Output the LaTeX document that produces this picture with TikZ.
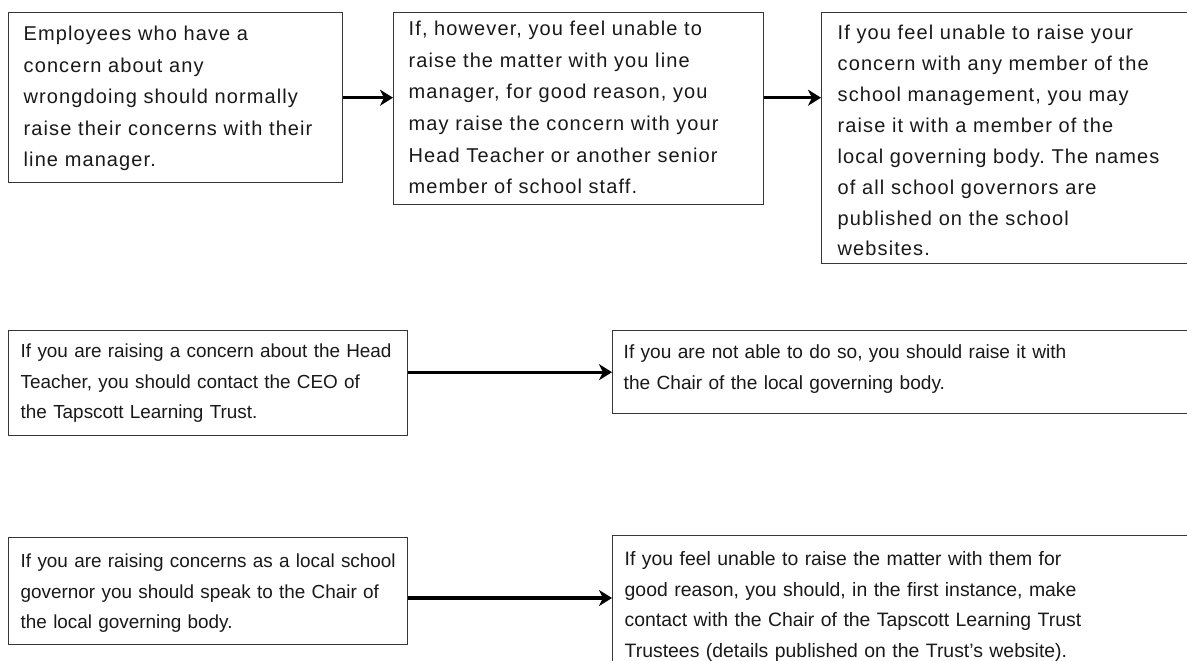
\documentclass[tikz,border=0pt]{standalone}
\usepackage{fontspec}
\setmainfont{Liberation Sans}
\newfontfamily\widefont[LetterSpace=5.5]{Liberation Sans}
\usetikzlibrary{arrows.meta}
\definecolor{bordc}{RGB}{55,55,55}
\definecolor{txtc}{RGB}{25,25,25}
\newcommand\tline[1]{\mbox{#1}\\}
\tikzset{
  box/.style={draw=bordc, line width=1.4pt, anchor=north west, inner ysep=0pt,
    align=left, text=txtc},
  toprow/.style={box, font=\widefont\fontsize{20}{#1}\selectfont\frenchspacing},
  lowrow/.style 2 args={box, font=\fontsize{#1}{#2}\selectfont\frenchspacing},
  arr/.style={line width=3.4pt, black, -{Stealth[length=13pt,width=16pt,inset=4pt]}},
}
\begin{document}
\begin{tikzpicture}[x=1pt,y=-1pt]
\useasboundingbox (0,0) rectangle (1187,661);
\clip (0,0) rectangle (1187,661);
\fill[white] (0,0) rectangle (1187,661);

\node[toprow=31.5, text width=304pt, inner xsep=15pt, text height=28pt, text depth=142pt] (b1) at (8,12)
 {\tline{Employees who have a}\tline{concern about any}\tline{wrongdoing should normally}\tline{raise their concerns with their}\mbox{line manager.}};
\node[toprow=31.6, text width=340pt, inner xsep=15pt, text height=23pt, text depth=169pt] (b2) at (393,12)
 {\tline{If, however, you feel unable to}\tline{raise the matter with you line}\tline{manager, for good reason, you}\tline{may raise the concern with your}\tline{Head Teacher or another senior}\mbox{member of school staff.}};
\node[toprow=30.9, text width=347pt, inner xsep=16pt, text height=27pt, text depth=224pt] (b3) at (821,12)
 {\tline{If you feel unable to raise your}\tline{concern with any member of the}\tline{school management, you may}\tline{raise it with a member of the}\tline{local governing body. The names}\tline{of all school governors are}\tline{published on the school}\mbox{websites.}};

\node[lowrow={18.9}{30.5}, text width=375pt, inner xsep=12pt, text height=27pt, text depth=78pt] (b4) at (8,330)
 {\tline{If you are raising a concern about the Head}\tline{Teacher, you should contact the CEO of}\mbox{the Tapscott Learning Trust.}};
\node[lowrow={19.1}{31}, text width=566pt, inner xsep=11pt, text height=28pt, text depth=55pt] (b5) at (612,330)
 {\tline{If you are not able to do so, you should raise it with}\mbox{the Chair of the local governing body.}};

\node[lowrow={18.9}{30.5}, text width=375pt, inner xsep=12pt, text height=30pt, text depth=77pt] (b6) at (8,537)
 {\tline{If you are raising concerns as a local school}\tline{governor you should speak to the Chair of}\mbox{the local governing body.}};
\node[lowrow={19.4}{30.5}, text width=564pt, inner xsep=12pt, text height=30pt, text depth=114pt] (b7) at (612,535)
 {\tline{If you feel unable to raise the matter with them for}\tline{good reason, you should, in the first instance, make}\tline{contact with the Chair of the Tapscott Learning Trust}\mbox{Trustees (details published on the Trust's website).}};

\coordinate (a4) at (0,598);
\draw[arr] (b1.east) -- (b1.east -| b2.west);
\draw[arr] (b2.east |- b1.east) -- (b3.west |- b1.east);
\draw[arr] (b4.east |- b5.west) -- (b5.west);
\draw[arr] (b6.east |- a4) -- (b7.west |- a4);
\end{tikzpicture}
\end{document}
